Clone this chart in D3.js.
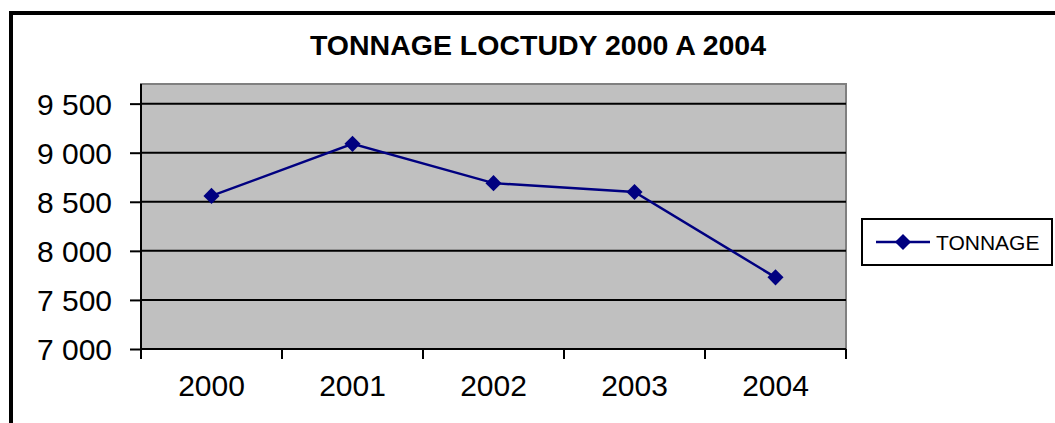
<!DOCTYPE html>
<html>
<head>
<meta charset="utf-8">
<script src="https://cdn.jsdelivr.net/npm/d3@7"></script>
<style>
  body { margin: 0; background: #fff; }
  svg { display: block; font-family: "Liberation Sans", Arial, sans-serif; }
</style>
</head>
<body>
<svg id="chart"></svg>
<script>
// data
const years = ["2000", "2001", "2002", "2003", "2004"];
const tonnage = [8560, 9090, 8690, 8600, 7730];
const yTicks = [7000, 7500, 8000, 8500, 9000, 9500];
const seriesName = "TONNAGE";
const titleText = "TONNAGE LOCTUDY 2000 A 2004";

const W = 1055, H = 423;
const plot = { left: 141, right: 846, top: 84, bottom: 349 };
const navy = "#000080";

const svg = d3.select("#chart").attr("width", W).attr("height", H);

// outer chart frame (right and bottom run off the page)
svg.append("rect")
  .attr("x", 11).attr("y", 13)
  .attr("width", 1100).attr("height", 500)
  .attr("fill", "#fff")
  .attr("stroke", "#000").attr("stroke-width", 4);

svg.append("text")
  .attr("x", 538).attr("y", 55)
  .attr("text-anchor", "middle")
  .style("font-size", "28.5px").style("font-weight", "bold")
  .text(titleText);

const x = d3.scaleBand().domain(years).range([plot.left, plot.right]);
const y = d3.scaleLinear().domain([7000, 9700]).range([plot.bottom, plot.top]);

// plot area
svg.append("rect")
  .attr("x", plot.left).attr("y", plot.top)
  .attr("width", plot.right - plot.left).attr("height", plot.bottom - plot.top)
  .attr("fill", "#c0c0c0")
  .attr("stroke", "#808080").attr("stroke-width", 2);

// gridlines
svg.append("g").selectAll("line")
  .data(yTicks.filter(d => d > 7000))
  .enter().append("line")
  .attr("x1", plot.left).attr("x2", plot.right)
  .attr("y1", d => y(d)).attr("y2", d => y(d))
  .attr("stroke", "#000").attr("stroke-width", 2);

const fr = d3.formatLocale({ decimal: ",", thousands: " ", grouping: [3], currency: ["", ""] });

// y axis
const yAxis = svg.append("g")
  .attr("transform", `translate(${plot.left},0)`)
  .call(d3.axisLeft(y).tickValues(yTicks).tickFormat(fr.format(",d")).tickSize(11).tickPadding(18).tickSizeOuter(0));
yAxis.select(".domain").attr("d", `M0,${plot.top}V${plot.bottom}`).attr("stroke", "#000").attr("stroke-width", 2);
yAxis.selectAll(".tick line").attr("stroke", "#000").attr("stroke-width", 2);
yAxis.selectAll(".tick text")
  .style("font-size", "30px").style("font-family", "Liberation Sans, Arial, sans-serif")
  .attr("fill", "#000").attr("dy", "0.36em");

// x axis: labels centred in bands, tick marks on band edges
const xAxis = svg.append("g")
  .attr("transform", `translate(0,${plot.bottom})`)
  .call(d3.axisBottom(x).tickSize(0).tickPadding(26).tickSizeOuter(0));
xAxis.select(".domain").attr("d", `M${plot.left},0H${plot.right}`).attr("stroke", "#000").attr("stroke-width", 2);
xAxis.selectAll(".tick text")
  .style("font-size", "30px").style("font-family", "Liberation Sans, Arial, sans-serif")
  .attr("fill", "#000").attr("dy", "0.71em");
xAxis.selectAll(".edge")
  .data(years.map(d => x(d)).concat([plot.right]))
  .enter().append("line")
  .attr("class", "edge")
  .attr("x1", d => d).attr("x2", d => d)
  .attr("y1", 0).attr("y2", 10)
  .attr("stroke", "#000").attr("stroke-width", 2);

// series
const pts = years.map((d, i) => [x(d) + x.bandwidth() / 2, y(tonnage[i])]);
svg.append("path")
  .attr("d", d3.line()(pts))
  .attr("fill", "none")
  .attr("stroke", navy).attr("stroke-width", 2.5);

const diamond = d3.symbol().type(d3.symbolDiamond2).size(165);
svg.append("g").selectAll("path")
  .data(pts)
  .enter().append("path")
  .attr("transform", d => `translate(${d[0]},${d[1]})`)
  .attr("d", diamond)
  .attr("fill", navy);

// legend
const lg = svg.append("g");
lg.append("rect")
  .attr("x", 862).attr("y", 219).attr("width", 190).attr("height", 46)
  .attr("fill", "#fff").attr("stroke", "#000").attr("stroke-width", 2);
lg.append("line")
  .attr("x1", 876).attr("x2", 930).attr("y1", 242).attr("y2", 242)
  .attr("stroke", navy).attr("stroke-width", 2.5);
lg.append("path")
  .attr("transform", "translate(903,242)")
  .attr("d", diamond)
  .attr("fill", navy);
lg.append("text")
  .attr("x", 936).attr("y", 249.5)
  .style("font-size", "21px")
  .text(seriesName);
</script>
</body>
</html>
